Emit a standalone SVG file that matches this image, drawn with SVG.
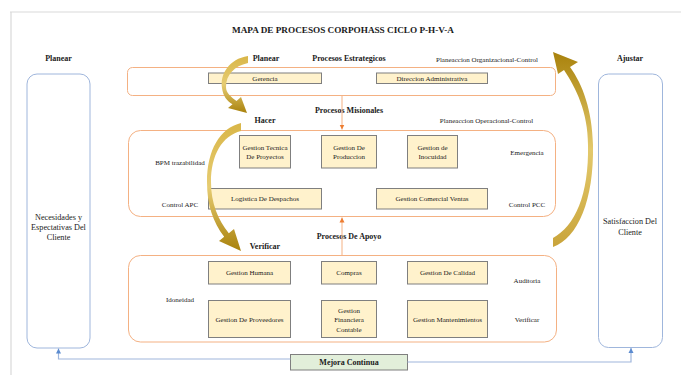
<svg xmlns="http://www.w3.org/2000/svg" width="681" height="375" viewBox="0 0 681 375">
<style>
text{font-family:"Liberation Serif","Times New Roman",serif;fill:#1a1a1a;text-anchor:middle}
.t{font-size:9.2px;font-weight:bold}
.b{font-size:8px;font-weight:bold}
.s{font-size:7px}
.m{font-size:8.2px}
.grp{fill:none;stroke:#f4b183;stroke-width:1}
.box{fill:#fff2cc;stroke:#7f7f7f;stroke-width:1}
.side{fill:none;stroke:#9fb6dc;stroke-width:1}
.frame{stroke:#d9d9d9;stroke-width:1.2;fill:none}
.oc{stroke:#f4b183;stroke-width:1;fill:none}
.bc{stroke:#9fb6dc;stroke-width:1.2;fill:none}
</style>
<defs>
<marker id="ao" markerWidth="6" markerHeight="6" refX="5" refY="3" orient="auto" markerUnits="userSpaceOnUse"><path d="M0,0.5 L5,3 L0,5.5 Z" fill="#ed7d31"/></marker>
<marker id="ab" markerWidth="6" markerHeight="6" refX="5" refY="3" orient="auto" markerUnits="userSpaceOnUse"><path d="M0,0.5 L5,3 L0,5.5 Z" fill="#5b8bd0"/></marker>
<linearGradient id="g1" x1="0" y1="0" x2="0" y2="1"><stop offset="0" stop-color="#d9b648"/><stop offset="0.5" stop-color="#e6cc72"/><stop offset="1" stop-color="#a9820c"/></linearGradient>
<linearGradient id="g2" x1="0" y1="1" x2="0" y2="0"><stop offset="0" stop-color="#c9a43a"/><stop offset="0.5" stop-color="#e3c96c"/><stop offset="1" stop-color="#a9820c"/></linearGradient>
</defs>
<rect x="0" y="0" width="681" height="375" fill="#ffffff"/>
<path class="frame" d="M10,12 H681 M11,12 V375"/>
<text class="t" x="343" y="33">MAPA DE PROCESOS CORPOHASS CICLO P-H-V-A</text>

<g id="planear-side">
<text class="b" x="58.5" y="61">Planear</text>
<rect class="side" x="27" y="74" width="63" height="274" rx="10"/>
<text class="m" x="58.5" y="220">Necesidades y</text>
<text class="m" x="58.5" y="230">Espectativas Del</text>
<text class="m" x="58.5" y="240">Cliente</text>
</g>

<g id="ajustar-side">
<text class="b" x="630" y="61">Ajustar</text>
<rect class="side" x="598.5" y="74" width="64" height="273.5" rx="10"/>
<text class="m" x="630" y="224">Satisfaccion Del</text>
<text class="m" x="630" y="234.5">Cliente</text>
</g>

<g id="estrategicos">
<text class="b" x="266" y="61">Planear</text>
<text class="b" x="349" y="61">Procesos Estrategicos</text>
<text class="s" x="487" y="61.5">Planeaccion Organizacional-Control</text>
<rect class="grp" x="127.5" y="67.5" width="428" height="28" rx="5"/>
<g id="gerencia"><rect class="box" x="208.5" y="73" width="113" height="10.5"/><text class="s" x="265" y="80.8">Gerencia</text></g>
<g id="direccion"><rect class="box" x="376.5" y="73" width="111" height="10.5"/><text class="s" x="432" y="80.8">Direccion Administrativa</text></g>
</g>

<g id="misionales">
<text class="b" x="349" y="112.5">Procesos Misionales</text>
<text class="b" x="265" y="123">Hacer</text>
<text class="s" x="486.5" y="122.5">Planeaccion Operacional-Control</text>
<rect class="grp" x="128.5" y="130.5" width="427" height="86" rx="12"/>
<text class="s" x="180" y="165">BPM trazabilidad</text>
<text class="s" x="180" y="206.5">Control APC</text>
<text class="s" x="527" y="154.5">Emergencia</text>
<text class="s" x="527" y="206.5">Control PCC</text>
<g id="tecnica"><rect class="box" x="239.5" y="135.5" width="51" height="32.5"/><text class="s" x="265" y="149.5">Gestion Tecnica</text><text class="s" x="265" y="159">De Proyectos</text></g>
<g id="produccion"><rect class="box" x="321.5" y="135.5" width="55" height="32.5"/><text class="s" x="349" y="149.5">Gestion De</text><text class="s" x="349" y="159">Produccion</text></g>
<g id="inocuidad"><rect class="box" x="407.5" y="135.5" width="50" height="32.5"/><text class="s" x="432.5" y="149.5">Gestion de</text><text class="s" x="432.5" y="159">Inocuidad</text></g>
<g id="logistica"><rect class="box" x="208.5" y="188.5" width="113" height="20.5"/><text class="s" x="265" y="201.3">Logistica De Despachos</text></g>
<g id="comercial"><rect class="box" x="376.5" y="188.5" width="111" height="20.5"/><text class="s" x="432" y="201.3">Gestion Comercial Ventas</text></g>
</g>

<g id="apoyo">
<text class="b" x="349" y="238.5">Procesos De Apoyo</text>
<text class="b" x="265" y="248.5">Verificar</text>
<rect class="grp" x="128.5" y="255.5" width="428" height="86.5" rx="12"/>
<text class="s" x="180" y="301.5">Idoneidad</text>
<text class="s" x="527" y="282.5">Auditoria</text>
<text class="s" x="527" y="321.5">Verificar</text>
<g id="humana"><rect class="box" x="208.5" y="261.5" width="82" height="22.5"/><text class="s" x="249.5" y="275">Gestion Humana</text></g>
<g id="compras"><rect class="box" x="321.5" y="261.5" width="55" height="22.5"/><text class="s" x="349" y="275">Compras</text></g>
<g id="calidad"><rect class="box" x="407.5" y="261.5" width="80" height="22.5"/><text class="s" x="447.5" y="275">Gestion De Calidad</text></g>
<g id="proveedores"><rect class="box" x="208.5" y="300.5" width="82" height="37"/><text class="s" x="249.5" y="321.5">Gestion De Proveedores</text></g>
<g id="financiera"><rect class="box" x="321.5" y="300.5" width="55" height="37"/><text class="s" x="349" y="312.5">Gestion</text><text class="s" x="349" y="322">Financiera</text><text class="s" x="349" y="331.5">Contable</text></g>
<g id="mantenimientos"><rect class="box" x="407.5" y="300.5" width="80" height="37"/><text class="s" x="447.5" y="321.5">Gestion Mantenimientos</text></g>
</g>

<g id="mejora">
<rect x="290.5" y="354.5" width="117" height="15.5" fill="#e2efda" stroke="#7f7f7f" stroke-width="1"/>
<text class="b" x="349" y="365">Mejora Continua</text>
</g>

<g id="connectors">
<path class="oc" d="M342,96 V129.5" marker-end="url(#ao)"/>
<path class="oc" d="M342,255.5 V217.5" marker-end="url(#ao)"/>
<path class="bc" d="M290.5,359 H58.5 V348.5" marker-end="url(#ab)"/>
<path class="bc" d="M407.5,362 H631 V348" marker-end="url(#ab)"/>
<path id="arrow-planear-hacer" fill="url(#g1)" d="M248,56 C229,59 220,74 222,88 C223,96 227,101 232.5,104.2 L228,108 L247,113 L241,97 L236.5,100.9 C231,97 226,93 226,87 C226,75 234,66 248,63 Z"/>
<path id="arrow-hacer-verificar" fill="url(#g1)" d="M241,123 C220,128 207,150 207,182 C207,205 213,222 224.2,236.8 L219,241 L241,251 L234,229 L228.8,233.2 C218,220 211,203 211,182 C211,155 222,136 241,131 Z"/>
<path id="arrow-ajustar" fill="url(#g2)" d="M553,247 C578,238 594,200 593,145 C592,110 583,85 570,67 L578,62 L553,52 L558,74 L564,70 C576,88 588,112 588,145 C589,195 575,226 553,238 Z"/>
</g>
</svg>
